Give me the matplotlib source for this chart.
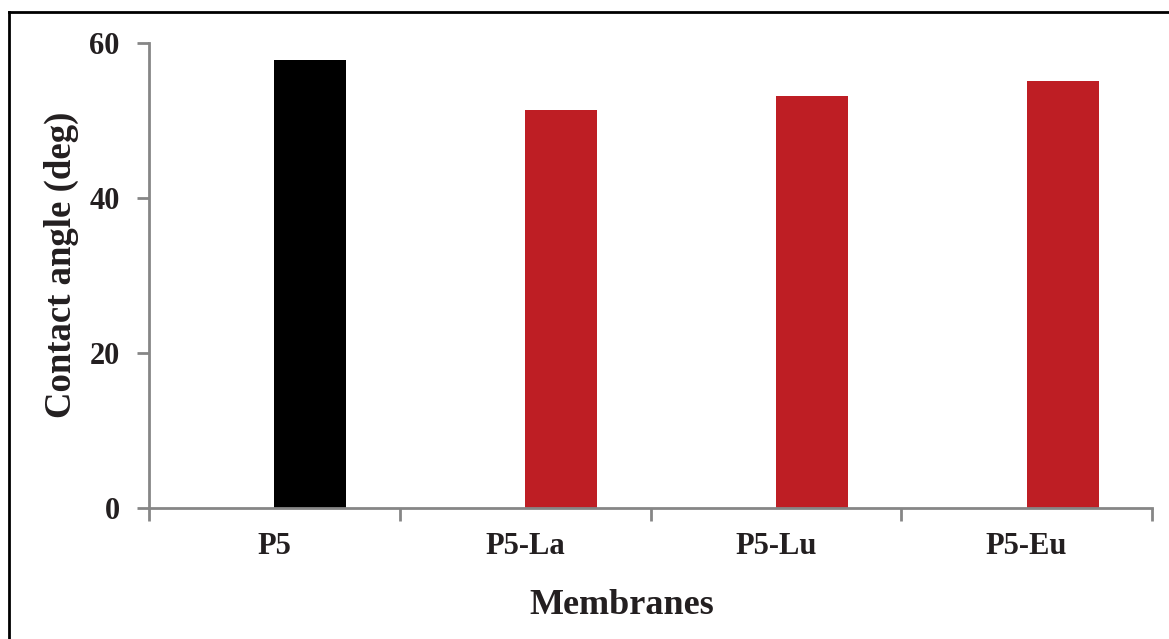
import matplotlib.pyplot as plt
from matplotlib.lines import Line2D
import numpy as np

# contact angle data
membranes = ['P5', 'P5-La', 'P5-Lu', 'P5-Eu']
angles = [57.8, 51.3, 53.2, 55.1]
colors = ['#000000', '#be1e24', '#be1e24', '#be1e24']

plt.rcParams['font.family'] = ['Liberation Serif', 'DejaVu Serif']
plt.rcParams['font.weight'] = 'bold'

W, H = 1169, 639
fig = plt.figure(figsize=(W / 100, H / 100), dpi=100)
ax = fig.add_axes([149 / W, (H - 508) / H, (1152 - 149) / W, (508 - 43) / H])

x = np.arange(len(membranes))
# bars sit in the right half of each slot (empty first series, as in Excel)
ax.bar(x, angles, width=0.287, align='edge', color=colors, edgecolor='none')

ax.set_xlim(-0.5, len(membranes) - 0.5)
ax.set_ylim(0, 60)
ax.set_yticks([0, 20, 40, 60])
ax.set_xticks(np.arange(-0.5, len(membranes)), minor=False)
ax.set_xticklabels([])
ax.set_xticks(x + 0.0, minor=True)
ax.set_xticklabels(membranes, minor=True)
ax.tick_params(axis='x', which='minor', length=0, pad=17, labelsize=22)
ax.tick_params(axis='x', which='major', length=9, width=2, color='#868686', direction='out')
ax.tick_params(axis='y', length=9, width=2, color='#868686', direction='out', labelsize=22, pad=12)

for s in ['top', 'right']:
    ax.spines[s].set_visible(False)
for s in ['left', 'bottom']:
    ax.spines[s].set_color('#868686')
    ax.spines[s].set_linewidth(2)

for lbl in ax.get_xticklabels(minor=True) + ax.get_yticklabels():
    lbl.set_fontweight('bold')
    lbl.set_color('#231f20')

fig.text(622 / W, 1 - 606 / H, 'Membranes', ha='center', va='center',
         fontsize=26, fontweight='bold', color='#231f20')
fig.text(61 / W, 1 - 265 / H, 'Contact angle (deg)', ha='center', va='center',
         rotation=90, fontsize=26.5, fontweight='bold', color='#231f20')

# outer frame (left and top edges visible)
fig.add_artist(Line2D([9 / W, 9 / W], [0, 1 - 12 / H], transform=fig.transFigure,
                      color='black', lw=2))
fig.add_artist(Line2D([9 / W, 1], [1 - 12 / H, 1 - 12 / H], transform=fig.transFigure,
                      color='black', lw=2))

fig.savefig('out.png', dpi=100)
